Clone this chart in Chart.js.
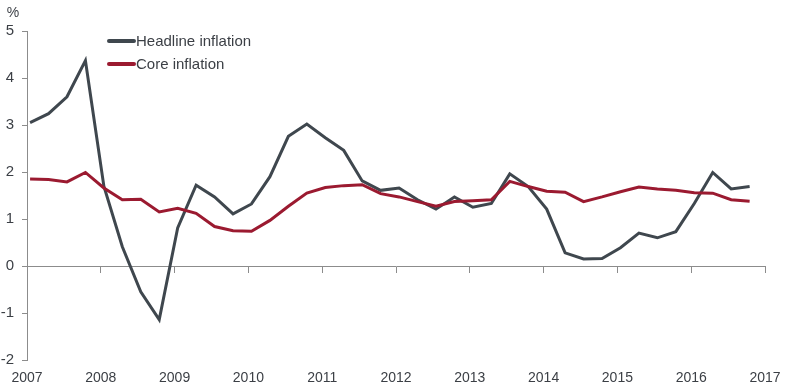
<!DOCTYPE html>
<html>
<head>
<meta charset="utf-8">
<script src="https://cdn.jsdelivr.net/npm/chart.js@4.4.1/dist/chart.umd.min.js"></script>
<style>
  html, body { margin: 0; padding: 0; background: #fff; }
</style>
</head>
<body>
<canvas id="chart" width="786" height="388"></canvas>
<script>
// quarterly data, 2007 Q1 .. 2016 Q4
const years = [2007, 2008, 2009, 2010, 2011, 2012, 2013, 2014, 2015, 2016];
const headline = [
    3.05, 3.24, 3.60, 4.37,
    1.70, 0.41, -0.55, -1.14,
    0.81, 1.72, 1.47, 1.11,
    1.32, 1.90, 2.76, 3.02,
    2.73, 2.46, 1.81, 1.61,
    1.66, 1.41, 1.21, 1.47,
    1.25, 1.33, 1.96, 1.69,
    1.21, 0.28, 0.15, 0.16,
    0.39, 0.70, 0.60, 0.73,
    1.33, 1.99, 1.64, 1.69
];
const core = [
    1.85, 1.84, 1.79, 1.99,
    1.66, 1.41, 1.42, 1.15,
    1.23, 1.12, 0.84, 0.75,
    0.74, 0.97, 1.27, 1.55,
    1.67, 1.71, 1.73, 1.54,
    1.47, 1.37, 1.27, 1.37,
    1.39, 1.41, 1.80, 1.69,
    1.59, 1.57, 1.37, 1.47,
    1.58, 1.68, 1.64, 1.61,
    1.56, 1.55, 1.41, 1.38
];
const xTicks = [2007, 2008, 2009, 2010, 2011, 2012, 2013, 2014, 2015, 2016, 2017];
const yTicks = [-2, -1, 0, 1, 2, 3, 4, 5];

const textColor = '#3b3f45';
const axisColor = '#8c8c8c';
const fontFamily = '"Liberation Sans", Arial, sans-serif';

// each quarter sits half a month after its start
function toPoints(values) {
    return values.map((v, i) => ({
        x: years[Math.floor(i / 4)] + (i % 4) / 4 + 1 / 24,
        y: v
    }));
}

// "%" unit label and the in-plot legend
const extras = {
    id: 'extras',
    afterDraw(chart) {
        const ctx = chart.ctx;
        ctx.save();
        ctx.fillStyle = textColor;
        ctx.font = '14px ' + fontFamily;
        ctx.textAlign = 'center';
        ctx.textBaseline = 'middle';
        ctx.fillText('%', 13, 13);

        chart.data.datasets.forEach((ds, i) => {
            const y = 41 + i * 23;
            ctx.strokeStyle = ds.borderColor;
            ctx.lineWidth = 4;
            ctx.lineCap = 'round';
            ctx.beginPath();
            ctx.moveTo(109, y);
            ctx.lineTo(134, y);
            ctx.stroke();
            ctx.fillStyle = textColor;
            ctx.font = '15px ' + fontFamily;
            ctx.textAlign = 'left';
            ctx.fillText(ds.label, 136, y + 1);
        });
        ctx.restore();
    }
};

const ctx = document.getElementById('chart').getContext('2d');
new Chart(ctx, {
    type: 'line',
    data: {
        datasets: [{
            label: 'Headline inflation',
            data: toPoints(headline),
            borderColor: '#3f474e',
            borderWidth: 3,
            pointRadius: 0,
            tension: 0,
            order: 2
        }, {
            label: 'Core inflation',
            data: toPoints(core),
            borderColor: '#9b1a30',
            borderWidth: 3,
            pointRadius: 0,
            tension: 0,
            order: 1
        }]
    },
    options: {
        responsive: false,
        animation: false,
        layout: { padding: { top: 31, right: 21, bottom: 0, left: 0 } },
        plugins: {
            legend: { display: false },
            tooltip: { enabled: false }
        },
        scales: {
            x: {
                type: 'linear',
                position: 'bottom',
                min: xTicks[0],
                max: xTicks[xTicks.length - 1],
                afterBuildTicks: s => { s.ticks = xTicks.map(v => ({ value: v })); },
                afterFit: s => {
                    s.height = 28;
                    s.paddingLeft = 0;
                    s.paddingRight = 0;
                },
                grid: { display: false, drawTicks: false },
                border: { display: false },
                ticks: {
                    callback: v => String(v),
                    color: textColor,
                    font: { family: fontFamily, size: 14 },
                    padding: 10,
                    maxRotation: 0,
                    autoSkip: false
                }
            },
            x0: {
                type: 'linear',
                position: { y: 0 },
                min: xTicks[0],
                max: xTicks[xTicks.length - 1],
                afterBuildTicks: s => { s.ticks = xTicks.map(v => ({ value: v })); },
                grid: { drawOnChartArea: false, tickLength: 6, color: axisColor },
                border: { color: axisColor, width: 1 },
                ticks: { display: false }
            },
            y: {
                min: yTicks[0],
                max: yTicks[yTicks.length - 1],
                afterBuildTicks: s => { s.ticks = yTicks.map(v => ({ value: v })); },
                afterFit: s => { s.width = 27; },
                grid: { drawOnChartArea: false, tickLength: 5, color: axisColor },
                border: { color: axisColor, width: 1 },
                ticks: {
                    color: textColor,
                    font: { family: fontFamily, size: 15 },
                    padding: 8
                }
            }
        }
    },
    plugins: [extras]
});
</script>
</body>
</html>
